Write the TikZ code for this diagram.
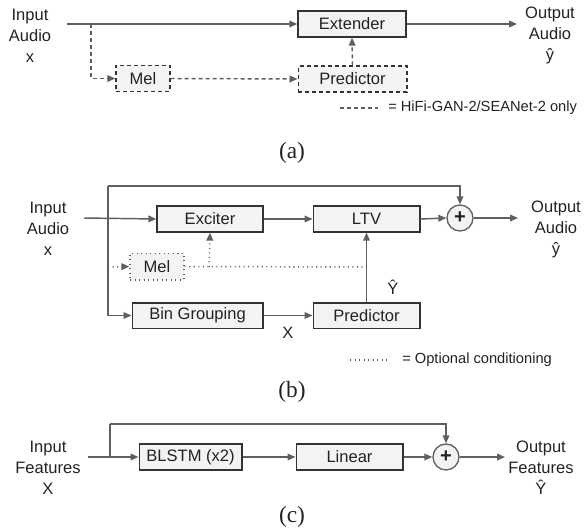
\documentclass[tikz,border=0pt]{standalone}
\usepackage{fontspec}
\setmainfont{Liberation Sans}
\newfontfamily\capfont{Liberation Serif}
\usetikzlibrary{arrows.meta}
\definecolor{ln}{HTML}{5F5F5F}
\definecolor{bx}{HTML}{333333}
\definecolor{bf}{HTML}{F3F3F3}
\definecolor{tx}{HTML}{222222}
\newcommand{\mainsz}{\fontsize{12.4}{15.75}\selectfont}
\newcommand{\legsz}{\fontsize{11}{13}\selectfont}
\newcommand{\capsz}{\fontsize{17.5}{19}\selectfont}
\newcommand{\plussz}{\fontsize{15}{15}\selectfont\bfseries}
\begin{document}
\begin{tikzpicture}[x=0.75pt,y=-0.75pt,
  every node/.style={text=tx},
  blk/.style={draw=bx, fill=bf, line width=1pt, inner sep=0pt, minimum height=19.5pt, font=\mainsz},
  dashbox/.style={blk, dash pattern=on 3pt off 2.25pt},
  dotbox/.style={blk, draw=ln, dash pattern=on 0.8pt off 2.6pt},
  lbl/.style={font=\mainsz, align=center, inner sep=0pt},
  conn/.style={draw=ln, line width=1.1pt, -{Triangle[length=6pt,width=5pt]}},
  plain/.style={draw=ln, line width=1.1pt},
  dsh/.style={dash pattern=on 3pt off 2.25pt},
  dtt/.style={dash pattern=on 0.8pt off 2.6pt},
  sumc/.style={circle, draw=ln, fill=bf, line width=1pt, minimum size=19.5pt, inner sep=0pt, font=\plussz},
  captxt/.style={font=\capfont\capsz, inner sep=0pt}]
\useasboundingbox (0,0) rectangle (584,531);

% ---------------- (a)
\node[lbl] (ina) at (30,36) {Input\\Audio\\x};
\node[lbl] (outa) at (550,35) {Output\\Audio\\ŷ};
\node[blk, minimum width=81pt] (ext) at (352,24) {Extender};
\node[dashbox, minimum width=81.5pt] (preda) at (352.5,79) {Predictor};
\node[dashbox, minimum width=40.5pt] (mela) at (143,78.5) {Mel};
\coordinate (sa) at (67,24);
\coordinate (ja) at (91,24);
\coordinate (ea) at (517,24);
\draw[conn] (sa) -- (ext.west);
\draw[conn, dsh] (ja) |- (mela.west);
\draw[conn, dsh] (mela.east) -- (preda.west);
\draw[conn, dsh] (preda.north) -- (ext.south);
\draw[conn] (ext.east) -- (ea);
\coordinate (la1) at (340,108);
\coordinate (la2) at (378,108);
\draw[plain, dsh] (la1) -- (la2);
\node[font=\legsz, anchor=west, inner sep=0pt] (lega) at (388,108) {= HiFi-GAN-2/SEANet-2 only};
\node[captxt] (capa) at (292,153) {(a)};

% ---------------- (b)
\node[lbl] (inb) at (48,229) {Input\\Audio\\x};
\node[lbl] (outb) at (556,229) {Output\\Audio\\ŷ};
\node[blk, minimum width=79.5pt] (exc) at (210,219) {Exciter};
\node[blk, minimum width=80pt] (ltv) at (366.5,219) {LTV};
\node[sumc] (sumb) at (460,218) {+};
\node[blk, minimum width=98pt, minimum height=19pt] (bin) at (197.5,315.5) {Bin Grouping};
\node[blk, minimum width=80pt, minimum height=19pt] (predb) at (366.5,315.5) {Predictor};
\node[dotbox, minimum width=40.5pt, minimum height=20pt] (melb) at (157,266.5) {Mel};
\coordinate (sb) at (84,218);
\coordinate (tb) at (108,186);
\coordinate (mb) at (108,267);
\coordinate (eb) at (518,218);
\coordinate (db) at (366.5,267);
\coordinate (xb) at (209,267);
\draw[conn] (sb) -- (exc.west);
\draw[conn] (exc.east) -- (ltv.west);
\draw[conn] (ltv.east) -- (sumb.west);
\draw[conn] (sumb.east) -- (eb);
\draw[conn] (tb) -| (sumb.north);
\draw[conn] (tb) |- (bin.west);
\draw[conn] (bin.east) -- (predb.west);
\draw[conn] (predb.north) -- (ltv.south);
\draw[conn, dtt] (mb) -- (melb.west);
\draw[plain, dtt] (melb.east) -- (db);
\draw[conn, dtt] (xb) -- (exc.south);
\node[lbl] (xlab) at (288,333) {X};
\node[lbl] (ylab) at (393,287) {Ŷ};
\coordinate (lb1) at (350,360);
\coordinate (lb2) at (390,360);
\draw[plain, dtt] (lb1) -- (lb2);
\node[font=\legsz, anchor=west, inner sep=0pt] (legb) at (402,360) {= Optional conditioning};
\node[captxt] (capb) at (292,392) {(b)};

% ---------------- (c)
\node[lbl] (inc) at (48,468) {Input\\Features\\X};
\node[lbl] (outc) at (541,468) {Output\\Features\\Ŷ};
\node[blk, minimum width=77pt] (blstm) at (190.5,457) {BLSTM (x2)};
\node[blk, minimum width=80pt] (lin) at (349.5,457) {Linear};
\node[sumc] (sumc) at (446,457) {+};
\coordinate (sc) at (88,457);
\coordinate (jc) at (110,457);
\coordinate (tc) at (110,424);
\coordinate (ec) at (505,457);
\draw[conn] (sc) -- (blstm.west);
\draw[plain] (jc) -- (tc);
\draw[conn] (tc) -| (sumc.north);
\draw[conn] (blstm.east) -- (lin.west);
\draw[conn] (lin.east) -- (sumc.west);
\draw[conn] (sumc.east) -- (ec);
\node[captxt] (capc) at (292,517) {(c)};
\end{tikzpicture}
\end{document}
